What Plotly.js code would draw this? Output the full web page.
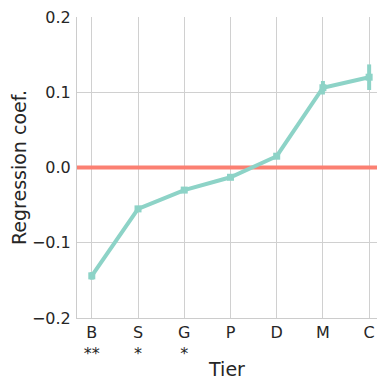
<!DOCTYPE html>
<html>
<head>
<meta charset="utf-8">
<script src="https://cdn.plot.ly/plotly-3.0.1.min.js"></script>
<style>html,body{margin:0;padding:0;background:#fff;}#chart{width:377px;height:380px;}</style>
</head>
<body>
<div id="chart"></div>
<script>
var tiers = ["B", "S", "G", "P", "D", "M", "C"];
var significance = ["**", "*", "*", "", "", "", ""];
var coefs = [-0.144, -0.055, -0.030, -0.013, 0.015, 0.106, 0.120];
var errors = [0.005, 0.004, 0.003, 0.003, 0.003, 0.009, 0.017];
var yTicks = [-0.2, -0.1, 0.0, 0.1, 0.2];

var xIdx = tiers.map(function(_, i){ return i; });
var tickText = tiers.map(function(t, i){ return t + "<br>" + (significance[i] || " "); });

var traces = [
  {
    x: [-0.5, tiers.length],
    y: [0, 0],
    mode: "lines",
    line: {color: "#fb8072", width: 4},
    hoverinfo: "skip",
    showlegend: false
  },
  {
    x: xIdx,
    y: coefs,
    mode: "lines+markers",
    line: {color: "#8dd3c7", width: 4},
    marker: {color: "#8dd3c7", size: 7, symbol: "square"},
    error_y: {type: "data", array: errors, visible: true, color: "#8dd3c7", thickness: 4, width: 0},
    showlegend: false
  }
];

var layout = {
  width: 377, height: 380,
  margin: {l: 77, r: 0, t: 17, b: 62},
  paper_bgcolor: "#ffffff",
  plot_bgcolor: "#ffffff",
  font: {family: "DejaVu Sans", color: "#262626", size: 16},
  xaxis: {
    range: [-0.32, 6.17],
    tickmode: "array",
    tickvals: xIdx,
    ticktext: tickText,
    showgrid: true, gridcolor: "#d0d0d0", gridwidth: 1,
    zeroline: false,
    showline: true, linecolor: "#cccccc", linewidth: 1,
    ticks: "",
    tickfont: {size: 16, color: "#262626"},
    title: {text: "Tier", font: {size: 19, color: "#262626"}, standoff: 4}
  },
  yaxis: {
    range: [-0.2, 0.2],
    tickmode: "array",
    tickvals: yTicks,
    tickformat: ".1f",
    showgrid: true, gridcolor: "#d0d0d0", gridwidth: 1,
    zeroline: false,
    showline: true, linecolor: "#cccccc", linewidth: 1,
    ticks: "",
    ticklabelstandoff: 2,
    tickfont: {size: 16, color: "#262626"},
    title: {text: "Regression coef.", font: {size: 19, color: "#262626"}, standoff: 0}
  }
};

Plotly.newPlot("chart", traces, layout, {displayModeBar: false, staticPlot: true});
</script>
</body>
</html>
